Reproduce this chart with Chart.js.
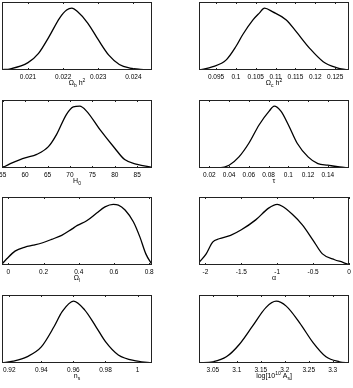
<!DOCTYPE html>
<html>
<head>
<meta charset="utf-8">
<script src="https://cdn.jsdelivr.net/npm/chart.js@4.4.0/dist/chart.umd.min.js"></script>
<style>
  body { margin: 0; background: #fff; width: 353px; height: 388px; overflow: hidden; position: relative; }
  canvas { position: absolute; }
</style>
</head>
<body>
<script>
// marginal posteriors, normalised to peak = 1
const ombX = [0.02026, 0.0205, 0.0210, 0.0213, 0.0216, 0.0219, 0.0221, 0.02225, 0.0224, 0.0227, 0.0230, 0.0233, 0.0236, 0.0239, 0.0242, 0.02453];
const ombY = [0.005, 0.02, 0.12, 0.27, 0.54, 0.84, 0.97, 1.0, 0.95, 0.76, 0.49, 0.24, 0.09, 0.03, 0.01, 0.003];
const ombTicks = [0.021, 0.022, 0.023, 0.024];

const omcX = [0.0907, 0.0942, 0.0975, 0.1, 0.1017, 0.1043, 0.1059, 0.1072, 0.1093, 0.1127, 0.1152, 0.1186, 0.122, 0.1253, 0.1285];
const omcY = [0.0, 0.054, 0.16, 0.38, 0.57, 0.81, 0.92, 1.0, 0.94, 0.81, 0.62, 0.35, 0.135, 0.04, 0.0];
const omcTicks = [0.095, 0.1, 0.105, 0.11, 0.115, 0.12, 0.125];

const h0X = [54.85, 56.7, 58.9, 60, 62.6, 65.2, 67.0, 69.2, 70.75, 72.2, 73.7, 76.7, 80, 82.2, 85, 88.3];
const h0Y = [0.0, 0.07, 0.136, 0.164, 0.22, 0.345, 0.54, 0.865, 0.99, 1.0, 0.92, 0.62, 0.32, 0.136, 0.06, 0.01];
const h0Ticks = [55, 60, 65, 70, 75, 80, 85];

const tauX = [0.0095, 0.03, 0.04, 0.05, 0.06, 0.0705, 0.0806, 0.0857, 0.0925, 0.1, 0.109, 0.12, 0.13, 0.14, 0.152, 0.1615];
const tauY = [0.0, 0.003, 0.045, 0.18, 0.4, 0.70, 0.92, 1.0, 0.92, 0.70, 0.4, 0.18, 0.07, 0.045, 0.016, 0.0];
const tauTicks = [0.02, 0.04, 0.06, 0.08, 0.1, 0.12, 0.14];

const olX = [-0.036, -0.009, 0.038, 0.095, 0.142, 0.195, 0.246, 0.303, 0.36, 0.392, 0.445, 0.502, 0.549, 0.596, 0.625, 0.663, 0.71, 0.747, 0.781, 0.814];
const olY = [0.016, 0.1, 0.225, 0.29, 0.32, 0.36, 0.415, 0.48, 0.58, 0.64, 0.715, 0.84, 0.94, 0.98, 0.97, 0.89, 0.70, 0.455, 0.18, 0.016];
const olTicks = [0, 0.2, 0.4, 0.6, 0.8];

const alphaX = [-2.087, -1.99, -1.90, -1.81, -1.65, -1.5, -1.30, -1.12, -1.0, -0.93, -0.79, -0.65, -0.5, -0.37, -0.20, -0.085, 0.0];
const alphaY = [0.044, 0.18, 0.37, 0.425, 0.48, 0.57, 0.73, 0.92, 0.98, 0.95, 0.82, 0.65, 0.40, 0.18, 0.085, 0.044, 0.005];
const alphaTicks = [-2, -1.5, -1, -0.5, 0];

const nsX = [0.9155, 0.9225, 0.931, 0.94, 0.948, 0.953, 0.96, 0.967, 0.974, 0.98, 0.988, 1.0, 1.009];
const nsY = [0.0, 0.03, 0.1, 0.26, 0.59, 0.83, 1.0, 0.86, 0.59, 0.345, 0.13, 0.03, 0.0];
const nsTicks = [0.92, 0.94, 0.96, 0.98, 1];

const asX = [3.021, 3.05, 3.078, 3.105, 3.133, 3.161, 3.182, 3.203, 3.231, 3.259, 3.286, 3.314, 3.334];
const asY = [0.0, 0.02, 0.1, 0.3, 0.6, 0.9, 1.0, 0.92, 0.65, 0.33, 0.1, 0.02, 0.0];
const asTicks = [3.05, 3.1, 3.15, 3.2, 3.25, 3.3];

const FONT = '"Liberation Sans", Arial, sans-serif';
const PADL = 14, PADR = 14, PADT = 4, AXISH = 24, PW = 150, PH = 68;

const panels = [
  { xs: ombX, ys: ombY, ticks: ombTicks, min: 0.02026, max: 0.02453, left: 2, top: 2,
    label: [['Ω'], ['b', 'sub'], [' h'], ['2', 'sup']] },
  { xs: omcX, ys: omcY, ticks: omcTicks, min: 0.0907, max: 0.1285, left: 199, top: 2,
    label: [['Ω'], ['c', 'sub'], [' h'], ['2', 'sup']] },
  { xs: h0X, ys: h0Y, ticks: h0Ticks, min: 54.85, max: 88.3, left: 2, top: 100,
    label: [['H'], ['0', 'sub']] },
  { xs: tauX, ys: tauY, ticks: tauTicks, min: 0.0095, max: 0.1615, left: 199, top: 100,
    label: [['τ']] },
  { xs: olX, ys: olY, ticks: olTicks, min: -0.036, max: 0.816, left: 2, top: 197,
    label: [['Ω'], ['l', 'sub']] },
  { xs: alphaX, ys: alphaY, ticks: alphaTicks, min: -2.09, max: 0, left: 199, top: 197,
    label: [['α']] },
  { xs: nsX, ys: nsY, ticks: nsTicks, min: 0.9155, max: 1.009, left: 2, top: 295,
    label: [['n'], ['s', 'sub']] },
  { xs: asX, ys: asY, ticks: asTicks, min: 3.021, max: 3.334, left: 199, top: 295,
    label: [['log[10'], ['10', 'sup'], [' A'], ['s', 'sub'], [']']] }
];

// box, inward ticks and the axis label (with sub/superscripts)
const framePlugin = {
  id: 'frame',
  afterDatasetsDraw(chart, args, opts) {
    const { ctx, chartArea: a, scales: { x } } = chart;
    ctx.save();
    ctx.strokeStyle = '#222';
    ctx.lineWidth = 1;
    ctx.strokeRect(a.left + 0.5, a.top + 0.5, a.width - 1, a.height - 1);
    ctx.beginPath();
    x.ticks.forEach(t => {
      const px = Math.round(x.getPixelForValue(t.value)) + 0.5;
      ctx.moveTo(px, a.bottom);
      ctx.lineTo(px, a.bottom - 2);
      ctx.moveTo(px, a.top);
      ctx.lineTo(px, a.top + 2);
    });
    ctx.stroke();

    const parts = opts.label;
    const fontFor = k => (k ? '5px ' : '7px ') + FONT;
    let w = 0;
    parts.forEach(p => { ctx.font = fontFor(p[1]); w += ctx.measureText(p[0]).width; });
    let cx = (a.left + a.right) / 2 - w / 2;
    const base = a.bottom + 15;
    ctx.fillStyle = '#000';
    ctx.textBaseline = 'alphabetic';
    ctx.textAlign = 'left';
    parts.forEach(p => {
      ctx.font = fontFor(p[1]);
      const dy = p[1] === 'sub' ? 2 : p[1] === 'sup' ? -3 : 0;
      ctx.fillText(p[0], cx, base + dy);
      cx += ctx.measureText(p[0]).width;
    });
    ctx.restore();
  }
};

panels.forEach(p => {
  const cv = document.createElement('canvas');
  cv.width = PW + PADL + PADR;
  cv.height = PADT + PH + AXISH;
  cv.style.left = (p.left - PADL) + 'px';
  cv.style.top = (p.top - PADT) + 'px';
  document.body.appendChild(cv);

  new Chart(cv, {
    type: 'line',
    data: {
      datasets: [{
        data: p.xs.map((v, i) => ({ x: v, y: p.ys[i] })),
        borderColor: '#000',
        borderWidth: 1.3,
        pointRadius: 0,
        cubicInterpolationMode: 'monotone',
        fill: false
      }]
    },
    options: {
      responsive: false,
      animation: false,
      events: [],
      layout: { padding: { left: PADL, right: PADR, top: PADT, bottom: 0 } },
      plugins: { legend: { display: false }, tooltip: { enabled: false }, frame: { label: p.label } },
      scales: {
        x: {
          type: 'linear',
          min: p.min,
          max: p.max,
          grid: { display: false, drawTicks: false },
          border: { display: false },
          afterBuildTicks: s => { s.ticks = p.ticks.map(v => ({ value: v })); },
          afterFit: s => { s.height = AXISH; s.paddingLeft = 0; s.paddingRight = 0; },
          ticks: {
            autoSkip: false,
            maxRotation: 0,
            padding: 3,
            color: '#000',
            font: { family: FONT, size: 6.5 },
            callback: v => String(v)
          }
        },
        y: { display: false, min: 0, max: 1.1 }
      }
    },
    plugins: [framePlugin]
  });
});
</script>
</body>
</html>
